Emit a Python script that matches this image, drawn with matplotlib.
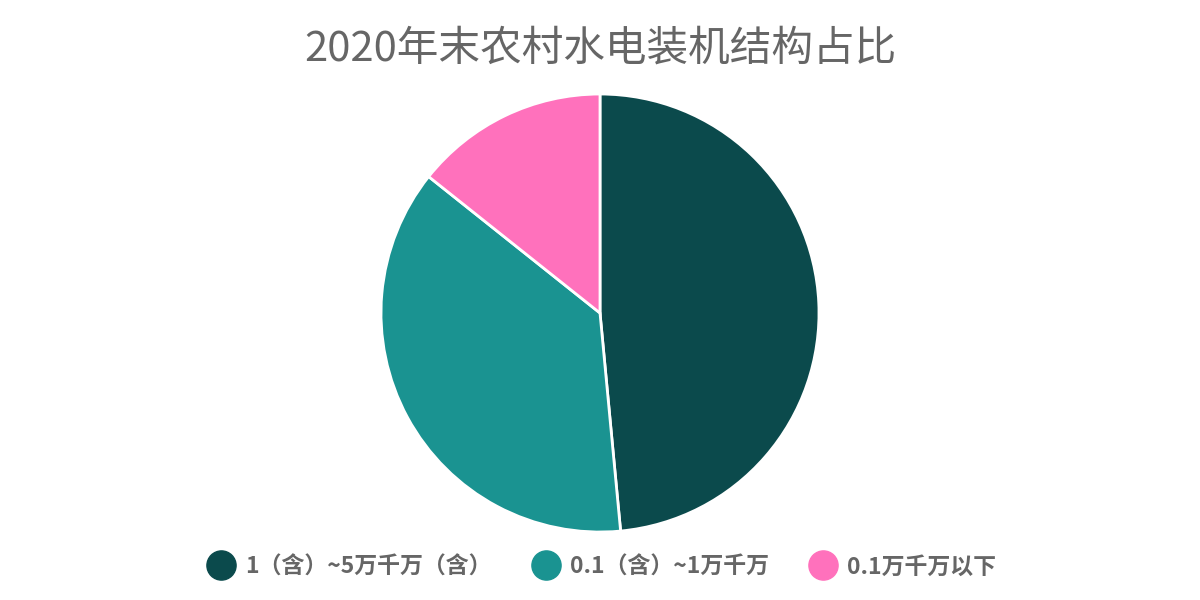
import matplotlib.pyplot as plt
from matplotlib.lines import Line2D

plt.rcParams['font.family'] = ['Noto Sans CJK SC', 'DejaVu Sans']

labels = ['1（含）~5万千万（含）', '0.1（含）~1万千万', '0.1万千万以下']
values = [48.5, 37.2, 14.3]
colors = ['#0B4A4C', '#1A9391', '#FF71BC']
title = '2020年末农村水电装机结构占比'

fig = plt.figure(figsize=(12, 6), dpi=100)
ax = fig.add_axes([0.3175, 0.1133, 0.365, 0.73])
ax.pie(values, colors=colors, startangle=90, counterclock=False,
       wedgeprops=dict(edgecolor='white', linewidth=2))
ax.set_xlim(-1, 1)
ax.set_ylim(-1, 1)
ax.set_aspect('equal')

fig.text(0.5, 0.918, title, ha='center', va='center', fontsize=30, color='#666666')

handles = [Line2D([], [], marker='o', linestyle='', markersize=21,
                  markerfacecolor=c, markeredgecolor=c) for c in colors]
leg = fig.legend(handles, labels, loc='center', bbox_to_anchor=(0.5, 0.055),
                 ncol=3, frameon=False, handletextpad=0.3, columnspacing=1.6,
                 handlelength=1.5, prop=dict(size=16.5, weight='bold'))
for t in leg.get_texts():
    t.set_color('#666666')

fig.savefig('out.png', dpi=100)
